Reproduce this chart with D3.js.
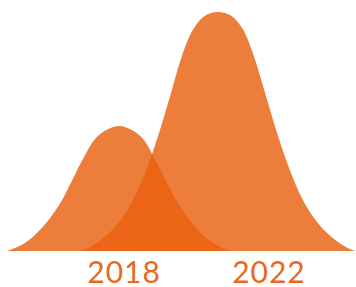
<!DOCTYPE html>
<html>
<head>
<meta charset="utf-8">
<script src="https://cdn.jsdelivr.net/npm/d3@7"></script>
<style>
body { margin: 0; background: #fff; }
</style>
</head>
<body>
<script>
// years on the axis
var years = ["2018", "2022"];
// where each year label sits on the score axis
var yearTicks = [34.7, 75.4];

// 2018 distribution: score (0-100) and relative height (0-100)
var x2018 = [2.0, 3.1, 6.5, 9.8, 13.2, 16.6, 19.9, 23.3, 26.7, 30.1, 33.4, 36.8, 40.2, 43.5, 46.9, 50.3, 53.7, 57.0, 60.4, 63.8, 64.9];
var h2018 = [0, 0.6, 2.9, 6.7, 12.1, 19.2, 28.5, 38.5, 46.9, 50.8, 52.3, 50.8, 46.9, 38.5, 28.5, 19.2, 12.1, 6.7, 2.9, 0.6, 0];

// 2022 distribution
var x2022 = [22.8, 24.2, 27.5, 30.9, 34.3, 37.6, 41.0, 44.4, 47.8, 51.1, 54.5, 57.9, 61.2, 64.6, 68.0, 71.3, 74.7, 78.1, 81.5, 84.8, 88.2, 91.6, 94.9, 98.3, 99.7];
var h2022 = [0, 0.8, 3.8, 7.9, 13.8, 22.2, 33.5, 48.1, 64.9, 81.6, 93.3, 98.7, 100, 98.7, 93.3, 81.6, 64.9, 48.1, 33.5, 22.2, 13.8, 7.9, 3.8, 0.8, 0];

var width = 356, height = 287;

var svg = d3.select("body").append("svg")
    .attr("width", width)
    .attr("height", height);

var xScale = d3.scaleLinear().domain([0, 100]).range([0, 356]);
var yScale = d3.scaleLinear().domain([0, 100]).range([251, 12]);

// keep the smoothed curves from dipping under the baseline
svg.append("clipPath").attr("id", "above")
    .append("rect")
    .attr("x", 0).attr("y", 0)
    .attr("width", width).attr("height", yScale(0));

var area = d3.area()
    .x(function(d) { return xScale(d[0]); })
    .y0(yScale(0))
    .y1(function(d) { return yScale(d[1]); })
    .curve(d3.curveCatmullRom.alpha(0.5));

var series = [d3.zip(x2018, h2018), d3.zip(x2022, h2022)];

svg.append("g")
    .attr("clip-path", "url(#above)")
    .selectAll("path.dist")
    .data(series)
    .enter()
    .append("path")
    .attr("class", "dist")
    .attr("d", area)
    .attr("fill", "#e9600e")
    .attr("fill-opacity", 0.815);

// year labels as a bare bottom axis
var xAxis = d3.axisBottom(xScale)
    .tickValues(yearTicks)
    .tickSize(0)
    .tickFormat(function(d, i) { return years[i]; });

var ax = svg.append("g")
    .attr("transform", "translate(0,252)")
    .call(xAxis);
ax.select(".domain").remove();
ax.selectAll("text")
    .attr("y", 31)
    .attr("dy", 0)
    .attr("fill", "#e9681c")
    .style("font-family", "Lato, sans-serif")
    .style("font-size", "30px")
    .style("letter-spacing", "1px");
</script>
</body>
</html>
